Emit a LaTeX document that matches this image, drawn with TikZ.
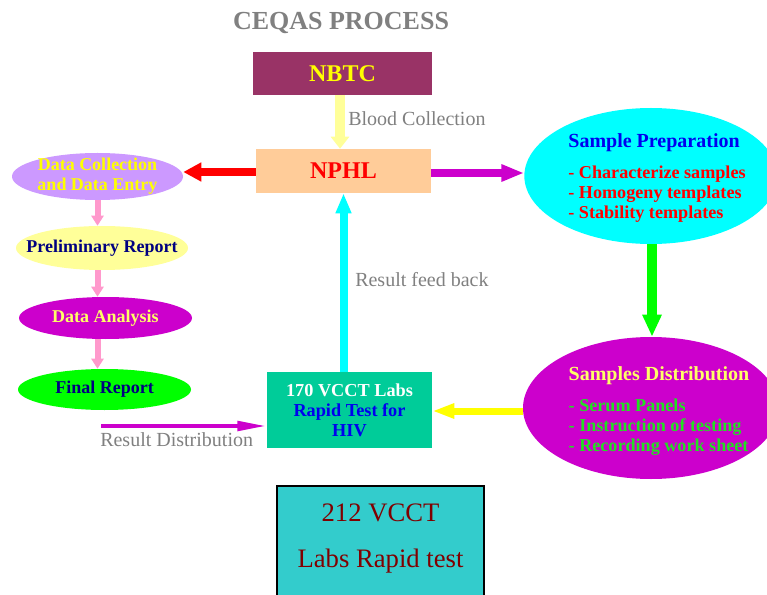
\documentclass[tikz,border=0pt]{standalone}
\usepackage{fontspec}
\setmainfont{Liberation Serif}
\usetikzlibrary{arrows.meta,shapes.geometric,calc}
\definecolor{nbtcfill}{HTML}{993366}
\definecolor{nphlfill}{HTML}{FFCC99}
\definecolor{lightyel}{HTML}{FFFF99}
\definecolor{yeltext}{HTML}{FFFF00}
\definecolor{paleyel}{HTML}{FFFF66}
\definecolor{magent}{HTML}{CC00CC}
\definecolor{lilac}{HTML}{CC99FF}
\definecolor{pinkarrow}{HTML}{FF99CC}
\definecolor{navytext}{HTML}{000080}
\definecolor{brightgreen}{HTML}{00FF00}
\definecolor{listgreen}{HTML}{22E022}
\definecolor{cyanfill}{HTML}{00FFFF}
\definecolor{bluetext}{HTML}{0000EE}
\definecolor{vcctfill}{HTML}{00CC99}
\definecolor{botfill}{HTML}{33CCCC}
\definecolor{bottext}{HTML}{800000}
\definecolor{graytext}{HTML}{808080}
\newcommand{\fsz}[2]{\fontsize{#1}{#2}\selectfont}
\tikzset{
  boxnode/.style={rectangle, inner sep=0pt, align=center},
  ovalnode/.style={ellipse, inner sep=0pt},
  ovaltext/.style={inner sep=0pt, align=center, font=\bfseries\fsz{13.5pt}{15pt}},
  listtext/.style={inner sep=0pt, align=left, font=\bfseries\fsz{13.6pt}{15pt}},
  graylabel/.style={text=graytext, font=\fsz{15pt}{17pt}, inner sep=0pt},
  bigarrow/.style={line width=6pt, -{Triangle[length=13.5pt,width=13.5pt]}},
}
\begin{document}
\begin{tikzpicture}[x=0.75pt,y=-0.75pt]
\useasboundingbox[fill=white] (0,0) rectangle (767,595);

% title
\node[text=graytext, font=\bfseries\fsz{19.5pt}{22pt}] (title) at (341,23) {CEQAS PROCESS};

% boxes
\node[boxnode, fill=nbtcfill, minimum width=134.25pt, minimum height=32.25pt,
      text=yeltext, font=\bfseries\fsz{18pt}{20pt}] (nbtc) at (342.5,73.5) {NBTC};
\node[boxnode, fill=nphlfill, minimum width=131.25pt, minimum height=33pt,
      text=red, font=\bfseries\fsz{18pt}{20pt}] (nphl) at (343.5,171) {NPHL};
\node[boxnode, fill=vcctfill, minimum width=123.75pt, minimum height=57pt,
      font=\bfseries\fsz{13.7pt}{15pt}] (vcct) at (349.5,410)
      {\textcolor{white}{170 VCCT Labs}\\\textcolor{bluetext}{Rapid Test for}\\\textcolor{bluetext}{HIV}};

% left ellipses
\node[ovalnode, fill=lilac, minimum width=128.25pt, minimum height=35.25pt] (dc) at (97.5,176.5) {};
\node[ovaltext, text=yeltext] (dctext) at (dc) {Data Collection\\and Data Entry};
\node[ovalnode, fill=lightyel, minimum width=129pt, minimum height=33pt] (pr) at (102,248) {};
\node[ovaltext, text=navytext] (prtext) at (pr) {Preliminary Report};
\node[ovalnode, fill=magent, minimum width=129.75pt, minimum height=31.5pt] (da) at (105.5,318) {};
\node[ovaltext, text=paleyel] (datext) at (da) {Data Analysis};
\node[ovalnode, fill=brightgreen, minimum width=129.75pt, minimum height=30.75pt] (fr) at (104.5,389.5) {};
\node[ovaltext, text=navytext] (frtext) at (fr) {Final Report};

% right ellipses
\node[ovalnode, fill=cyanfill, minimum width=190pt, minimum height=102pt] (sp) at (651,176) {};
\node[listtext] (sptext) at (657,178)
      {\textcolor{bluetext}{\fsz{15pt}{15pt}Sample Preparation}\\[8pt]
       \textcolor{red}{- Characterize samples}\\
       \textcolor{red}{- Homogeny templates}\\
       \textcolor{red}{- Stability templates}};
\node[ovalnode, fill=magent, minimum width=192pt, minimum height=106.5pt] (sd) at (651,408) {};
\node[listtext] (sdtext) at (659,411)
      {\textcolor{paleyel}{\fsz{15pt}{15pt}Samples Distribution}\\[8pt]
       \textcolor{listgreen}{- Serum Panels}\\
       \textcolor{listgreen}{- Instruction of testing}\\
       \textcolor{listgreen}{- Recording work sheet}};

% bottom box
\node[boxnode, draw=black, line width=1.5pt, fill=botfill, anchor=north,
      minimum width=155.25pt, minimum height=101.25pt] (bot) at (380.5,485) {};
\node[boxnode, text=bottext, font=\fsz{20pt}{34.5pt}, anchor=north] (bottxt)
      at ([yshift=-14pt]bot.north) {212 VCCT\\Labs Rapid test};

% connectors
\draw[lightyel, line width=7.5pt, -{Triangle[length=9pt,width=13.5pt]}]
  (nbtc.south -| 340,0) -- (nphl.north -| 340,0);
\node[graylabel, anchor=west] (lblood) at (348,119) {Blood Collection};

\draw[red, bigarrow] (nphl.west |- 0,172) -- (dc.east |- 0,172);
\draw[magent, line width=6pt, -{Triangle[length=17pt,width=12pt]}]
  (nphl.east |- 0,173) -- (sp.west |- 0,173);

\draw[pinkarrow, line width=4.5pt, -{Triangle[length=7.5pt,width=9pt]}]
  (dc.south) -- (dc.south |- pr.north);
\draw[pinkarrow, line width=4.5pt, -{Triangle[length=7.5pt,width=9pt]}]
  (dc.south |- pr.south) -- (dc.south |- da.north);
\draw[pinkarrow, line width=4.5pt, -{Triangle[length=7.5pt,width=9pt]}]
  (dc.south |- da.south) -- (dc.south |- fr.north);

\draw[brightgreen, line width=7.5pt, -{Triangle[length=16.5pt,width=13.5pt]}]
  (sp.south -| 652,0) -- (sd.north -| 652,0);
\draw[yeltext, line width=5.25pt, -{Triangle[length=16.5pt,width=10.5pt]}]
  (sd.west |- 0,411) -- (vcct.east |- 0,411);
\draw[cyanfill, line width=6pt, -{Triangle[length=15pt,width=11pt]}]
  (vcct.north -| nphl.south) -- (nphl.south);
\node[graylabel, anchor=west] (lfeed) at (355,280) {Result feed back};

\coordinate (rdstart) at (101,426);
\draw[magent, line width=3pt, -{Triangle[length=22pt,width=7pt]}]
  (rdstart) -- (vcct.west |- rdstart);
\node[graylabel, anchor=west] (lresult) at (100,440) {Result Distribution};
\end{tikzpicture}
\end{document}
